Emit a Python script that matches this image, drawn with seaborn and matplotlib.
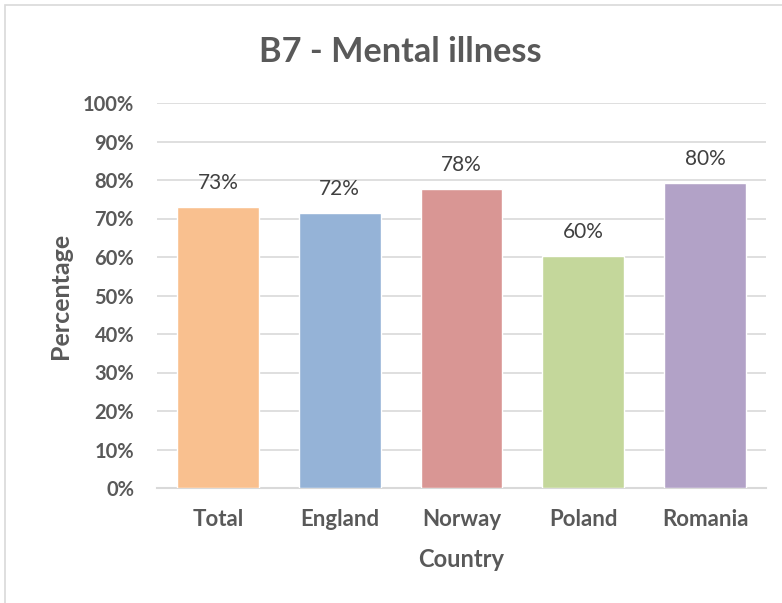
import matplotlib
matplotlib.use("Agg")
import matplotlib.pyplot as plt
import seaborn as sns
import pandas as pd
from matplotlib.patches import Rectangle

countries = ["Total", "England", "Norway", "Poland", "Romania"]
values = [73.0, 71.5, 77.7, 60.3, 79.3]
labels = ["73%", "72%", "78%", "60%", "80%"]
colors = ["#F9C08F", "#95B3D7", "#D99694", "#C4D79B", "#B2A2C7"]
yticks = list(range(0, 101, 10))

sns.set_theme(style="white")
plt.rcParams['font.family'] = ['Lato', 'DejaVu Sans']

df = pd.DataFrame({"Country": countries, "Percentage": values})

fig = plt.figure(figsize=(7.82, 6.03), dpi=100)
ax = fig.add_axes([157/782, 1-488/603, (766-157)/782, (488-103)/603])

sns.barplot(data=df, x="Country", y="Percentage", hue="Country", palette=colors,
            width=0.673, ax=ax, legend=False, saturation=1, zorder=3)

ax.set_ylim(0, 100)
ax.set_yticks(yticks)
ax.set_yticklabels([f"{t}%" for t in yticks], fontsize=14.5, fontweight='bold', color='#595959')
ax.set_xticks(range(len(countries)))
ax.set_xticklabels(countries, fontsize=16, fontweight='bold', color='#595959')
ax.tick_params(axis='both', length=0)
ax.tick_params(axis='y', pad=16.5)
ax.tick_params(axis='x', pad=15)
ax.grid(axis='y', color='#D9D9D9', linewidth=1.2, zorder=0)
ax.set_axisbelow(True)
for s in ['left', 'right', 'top']:
    ax.spines[s].set_visible(False)
ax.spines['bottom'].set_color('#D9D9D9')
ax.spines['bottom'].set_linewidth(1.5)

for i, (v, lab) in enumerate(zip(values, labels)):
    ax.annotate(lab, (i, v), xytext=(0, 13), textcoords='offset points',
                ha='center', va='baseline', fontsize=15, color='#404040')

ax.set_ylabel("Percentage", fontsize=18, fontweight='bold', color='#595959', labelpad=8)
ax.set_xlabel("Country", fontsize=17, fontweight='bold', color='#595959', labelpad=13)

fig.text(400/782, 1-62/603, "B7 - Mental illness", ha='center', va='baseline',
         fontsize=24.7, fontweight='bold', color='#595959')

fig.patches.append(Rectangle((5/782, -0.1), 1.2, 1 - 5/603 + 0.1, transform=fig.transFigure,
                             fill=False, edgecolor='#D9D9D9', linewidth=1.2))

fig.savefig("out.png", dpi=100)
